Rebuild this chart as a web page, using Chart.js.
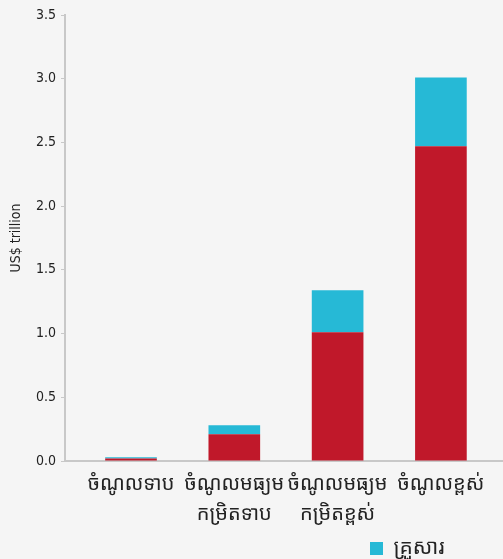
<!DOCTYPE html>
<html>
<head>
<meta charset="utf-8">
<script src="https://cdn.jsdelivr.net/npm/chart.js@4.4.0/dist/chart.umd.min.js"></script>
<style>
  html, body { margin: 0; padding: 0; background: #f5f5f5; overflow: hidden; }
  #wrap { position: relative; width: 503px; height: 559px; }
</style>
</head>
<body>
<div id="wrap"><canvas id="c" width="503" height="559"></canvas></div>
<script>
const categories = [
  ['ចំណូលទាប'],
  ['ចំណូលមធ្យម', 'កម្រិតទាប'],
  ['ចំណូលមធ្យម', 'កម្រិតខ្ពស់'],
  ['ចំណូលខ្ពស់']
];
const businessValues = [0.02, 0.21, 1.01, 2.47];
const householdValues = [0.01, 0.07, 0.33, 0.54];
const yTicks = [0, 0.5, 1.0, 1.5, 2.0, 2.5, 3.0, 3.5];
const seriesNames = ['អាជីវកម្ម', 'គ្រួសារ'];

const latin = "'Liberation Sans Narrow', 'DejaVu Sans Condensed', 'Liberation Sans', sans-serif";
const khmer = "'Noto Sans Khmer', 'Khmer OS', 'Noto Sans', sans-serif";

const legendShift = {
  id: 'legendShift',
  beforeDraw(chart) {
    const lg = chart.legend;
    if (lg) {
      lg.left = 370;
      lg.top = chart.height - lg.height + 10;
    }
  }
};

new Chart(document.getElementById('c'), {
  type: 'bar',
  data: {
    datasets: [
      {
        label: seriesNames[0],
        data: businessValues.map((v, i) => ({ x: i, y: v })),
        backgroundColor: '#c0182a',
        borderWidth: 0,
        barPercentage: 0.5,
        categoryPercentage: 1.0
      },
      {
        label: seriesNames[1],
        data: householdValues.map((v, i) => ({ x: i, y: v })),
        backgroundColor: '#26b9d6',
        borderWidth: 0,
        barPercentage: 0.5,
        categoryPercentage: 1.0
      }
    ]
  },
  plugins: [legendShift],
  options: {
    responsive: false,
    animation: false,
    layout: { padding: { top: 15, right: 0, bottom: 0, left: 0 } },
    plugins: {
      tooltip: { enabled: false },
      title: { display: false },
      legend: {
        display: true,
        position: 'bottom',
        align: 'start',
        labels: {
          filter: (item) => item.datasetIndex === 1,
          boxWidth: 13,
          boxHeight: 13,
          padding: 0,
          color: '#222',
          font: { family: khmer, size: 21 }
        }
      }
    },
    scales: {
      x: {
        type: 'linear',
        offset: false,
        stacked: true,
        min: -0.639,
        max: 3.601,
        afterBuildTicks: (scale) => { scale.ticks = categories.map((c, i) => ({ value: i })); },
        afterFit: (scale) => { scale.height = 67; },
        grid: { display: false },
        border: { display: true, color: '#c8c8c8', width: 2 },
        ticks: {
          color: '#222',
          padding: 0,
          maxRotation: 0,
          autoSkip: false,
          font: { family: khmer, size: 20, lineHeight: 1.5 },
          callback: (v) => categories[v]
        }
      },
      y: {
        stacked: true,
        min: 0,
        max: 3.5,
        afterBuildTicks: (scale) => { scale.ticks = yTicks.map(v => ({ value: v })); },
        afterFit: (scale) => { scale.width = 65; },
        grid: { display: true, drawOnChartArea: false, drawTicks: true, tickLength: 4, color: '#c8c8c8' },
        border: { display: true, color: '#c8c8c8', width: 2 },
        ticks: {
          color: '#222',
          padding: 5,
          font: { family: latin, size: 14 },
          callback: (v) => Number(v).toFixed(1)
        },
        title: {
          display: true,
          text: 'US$ trillion',
          color: '#222',
          padding: { top: 8, bottom: 4 },
          font: { family: latin, size: 14 }
        }
      }
    }
  }
});
</script>
</body>
</html>
